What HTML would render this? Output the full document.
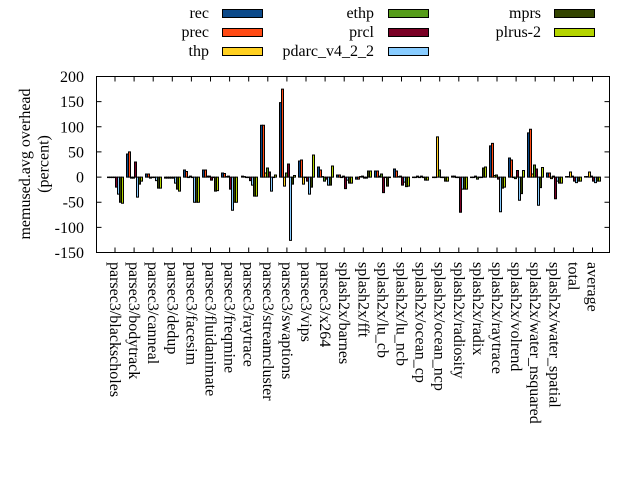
<!DOCTYPE html>
<html><head><meta charset="utf-8"><style>
html,body{margin:0;padding:0;background:#fff;}
svg{display:block;font-family:"Liberation Serif",serif;font-size:16px;}
.b rect{stroke:#000;stroke-width:1;vector-effect:non-scaling-stroke;}
.a{fill:#0c4a8a}.p{fill:#ff4a14}.t{fill:#ffd020}.e{fill:#569c1a}.c{fill:#7a0025}.d{fill:#88ccff}.m{fill:#334400}.l{fill:#b4d400}
.lg rect{stroke:#000;stroke-width:1;}
</style></head><body>
<svg width="640" height="480" viewBox="0 0 640 480">
<rect width="640" height="480" fill="#fff"/>
<!-- legend -->
<g text-anchor="end">
<text x="209" y="18">rec</text><text x="209" y="37">prec</text><text x="209" y="56">thp</text>
<text x="374" y="18">ethp</text><text x="374" y="37">prcl</text><text x="374" y="56">pdarc_v4_2_2</text>
<text x="541" y="18">mprs</text><text x="541" y="37">plrus-2</text>
</g>
<g class="lg">
<rect class="a" x="222.5" y="9.5" width="40" height="8"/>
<rect class="p" x="222.5" y="28.5" width="40" height="8"/>
<rect class="t" x="222.5" y="47.5" width="40" height="8"/>
<rect class="e" x="388.5" y="9.5" width="40" height="8"/>
<rect class="c" x="388.5" y="28.5" width="40" height="8"/>
<rect class="d" x="388.5" y="47.5" width="40" height="8"/>
<rect class="m" x="554.5" y="9.5" width="40" height="8"/>
<rect class="l" x="554.5" y="28.5" width="40" height="8"/>
</g>
<!-- bars -->
<g class="b" transform="translate(0,177.07) scale(1,-0.50286)">
<g transform="translate(107.5,0)"><rect class="a" x="0" y="-1" width="2" height="1"/><rect class="p" x="2" y="-1" width="2" height="1"/><rect class="t" x="4" y="-1" width="2" height="1"/><rect class="e" x="6" y="-1" width="2" height="1"/><rect class="c" x="8" y="-20" width="2" height="20"/><rect class="d" x="10" y="-34" width="2" height="34"/><rect class="m" x="12" y="-50" width="2" height="50"/><rect class="l" x="14" y="-52" width="2" height="52"/></g>
<g transform="translate(126.5,0)"><rect class="a" x="0" y="0" width="2" height="46"/><rect class="p" x="2" y="0" width="2" height="50"/><rect class="t" x="4" y="-2" width="2" height="2"/><rect class="e" x="6" y="-2" width="2" height="2"/><rect class="c" x="8" y="0" width="2" height="30"/><rect class="d" x="10" y="-40" width="2" height="40"/><rect class="m" x="12" y="-14" width="2" height="14"/><rect class="l" x="14" y="-8" width="2" height="8"/></g>
<g transform="translate(145.5,0)"><rect class="a" x="0" y="0" width="2" height="6"/><rect class="p" x="2" y="0" width="2" height="6"/><rect class="t" x="4" y="-2" width="2" height="2"/><rect class="e" x="6" y="-1" width="2" height="1"/><rect class="c" x="8" y="-1" width="2" height="1"/><rect class="d" x="10" y="-7" width="2" height="7"/><rect class="m" x="12" y="-22" width="2" height="22"/><rect class="l" x="14" y="-22" width="2" height="22"/></g>
<g transform="translate(164.5,0)"><rect class="a" x="0" y="-2" width="2" height="2"/><rect class="p" x="2" y="-2" width="2" height="2"/><rect class="t" x="4" y="-2" width="2" height="2"/><rect class="e" x="6" y="-2" width="2" height="2"/><rect class="c" x="8" y="-2" width="2" height="2"/><rect class="d" x="10" y="-12" width="2" height="12"/><rect class="m" x="12" y="-24" width="2" height="24"/><rect class="l" x="14" y="-28" width="2" height="28"/></g>
<g transform="translate(183.5,0)"><rect class="a" x="0" y="0" width="2" height="14"/><rect class="p" x="2" y="0" width="2" height="11"/><rect class="t" x="4" y="-1" width="2" height="1"/><rect class="e" x="6" y="0" width="2" height="2"/><rect class="c" x="8" y="-1" width="2" height="1"/><rect class="d" x="10" y="-50" width="2" height="50"/><rect class="m" x="12" y="-50" width="2" height="50"/><rect class="l" x="14" y="-50" width="2" height="50"/></g>
<g transform="translate(202.5,0)"><rect class="a" x="0" y="0" width="2" height="14"/><rect class="p" x="2" y="0" width="2" height="14"/><rect class="t" x="4" y="0" width="2" height="2"/><rect class="e" x="6" y="0" width="2" height="2"/><rect class="c" x="8" y="-6" width="2" height="6"/><rect class="d" x="10" y="-1" width="2" height="1"/><rect class="m" x="12" y="-28" width="2" height="28"/><rect class="l" x="14" y="-27" width="2" height="27"/></g>
<g transform="translate(221.5,0)"><rect class="a" x="0" y="0" width="2" height="8"/><rect class="p" x="2" y="0" width="2" height="7"/><rect class="t" x="4" y="0" width="2" height="1"/><rect class="e" x="6" y="0" width="2" height="2"/><rect class="c" x="8" y="-24" width="2" height="24"/><rect class="d" x="10" y="-66" width="2" height="66"/><rect class="m" x="12" y="-50" width="2" height="50"/><rect class="l" x="14" y="-50" width="2" height="50"/></g>
<g transform="translate(241.5,0)"><rect class="a" x="0" y="0" width="2" height="2"/><rect class="p" x="2" y="0" width="2" height="1"/><rect class="t" x="4" y="-1" width="2" height="1"/><rect class="e" x="6" y="-1" width="2" height="1"/><rect class="c" x="8" y="-7" width="2" height="7"/><rect class="d" x="10" y="-16" width="2" height="16"/><rect class="m" x="12" y="-38" width="2" height="38"/><rect class="l" x="14" y="-38" width="2" height="38"/></g>
<g transform="translate(260.5,0)"><rect class="a" x="0" y="0" width="2" height="103"/><rect class="p" x="2" y="0" width="2" height="103"/><rect class="t" x="4" y="0" width="2" height="8"/><rect class="e" x="6" y="0" width="2" height="18"/><rect class="c" x="8" y="0" width="2" height="10"/><rect class="d" x="10" y="-28" width="2" height="28"/><rect class="m" x="12" y="-1" width="2" height="1"/><rect class="l" x="14" y="0" width="2" height="4"/></g>
<g transform="translate(279.5,0)"><rect class="a" x="0" y="0" width="2" height="148"/><rect class="p" x="2" y="0" width="2" height="175"/><rect class="t" x="4" y="-18" width="2" height="18"/><rect class="e" x="6" y="0" width="2" height="8"/><rect class="c" x="8" y="0" width="2" height="26"/><rect class="d" x="10" y="-126" width="2" height="126"/><rect class="m" x="12" y="-14" width="2" height="14"/><rect class="l" x="14" y="0" width="2" height="3"/></g>
<g transform="translate(298.5,0)"><rect class="a" x="0" y="0" width="2" height="32"/><rect class="p" x="2" y="0" width="2" height="34"/><rect class="t" x="4" y="-14" width="2" height="14"/><rect class="e" x="6" y="-1" width="2" height="1"/><rect class="c" x="8" y="-8" width="2" height="8"/><rect class="d" x="10" y="-34" width="2" height="34"/><rect class="m" x="12" y="-20" width="2" height="20"/><rect class="l" x="14" y="0" width="2" height="44"/></g>
<g transform="translate(317.5,0)"><rect class="a" x="0" y="0" width="2" height="20"/><rect class="p" x="2" y="0" width="2" height="14"/><rect class="t" x="4" y="0" width="2" height="1"/><rect class="e" x="6" y="-8" width="2" height="8"/><rect class="c" x="8" y="-4" width="2" height="4"/><rect class="d" x="10" y="-16" width="2" height="16"/><rect class="m" x="12" y="-16" width="2" height="16"/><rect class="l" x="14" y="0" width="2" height="22"/></g>
<g transform="translate(336.5,0)"><rect class="a" x="0" y="0" width="2" height="4"/><rect class="p" x="2" y="0" width="2" height="4"/><rect class="t" x="4" y="-1" width="2" height="1"/><rect class="e" x="6" y="0" width="2" height="2"/><rect class="c" x="8" y="-23" width="2" height="23"/><rect class="d" x="10" y="-6" width="2" height="6"/><rect class="m" x="12" y="-12" width="2" height="12"/><rect class="l" x="14" y="-12" width="2" height="12"/></g>
<g transform="translate(355.5,0)"><rect class="a" x="0" y="-4" width="2" height="4"/><rect class="p" x="2" y="-4" width="2" height="4"/><rect class="t" x="4" y="0" width="2" height="1"/><rect class="e" x="6" y="0" width="2" height="2"/><rect class="c" x="8" y="-2" width="2" height="2"/><rect class="d" x="10" y="-2" width="2" height="2"/><rect class="m" x="12" y="0" width="2" height="12"/><rect class="l" x="14" y="0" width="2" height="12"/></g>
<g transform="translate(374.5,0)"><rect class="a" x="0" y="0" width="2" height="12"/><rect class="p" x="2" y="0" width="2" height="12"/><rect class="t" x="4" y="0" width="2" height="2"/><rect class="e" x="6" y="0" width="2" height="6"/><rect class="c" x="8" y="-31" width="2" height="31"/><rect class="d" x="10" y="-1" width="2" height="1"/><rect class="m" x="12" y="-18" width="2" height="18"/><rect class="l" x="14" y="-1" width="2" height="1"/></g>
<g transform="translate(393.5,0)"><rect class="a" x="0" y="0" width="2" height="16"/><rect class="p" x="2" y="0" width="2" height="12"/><rect class="t" x="4" y="0" width="2" height="1"/><rect class="e" x="6" y="0" width="2" height="2"/><rect class="c" x="8" y="-16" width="2" height="16"/><rect class="d" x="10" y="-10" width="2" height="10"/><rect class="m" x="12" y="-19" width="2" height="19"/><rect class="l" x="14" y="-18" width="2" height="18"/></g>
<g transform="translate(412.5,0)"><rect class="a" x="0" y="-1" width="2" height="1"/><rect class="p" x="2" y="-1" width="2" height="1"/><rect class="t" x="4" y="0" width="2" height="2"/><rect class="e" x="6" y="-1" width="2" height="1"/><rect class="c" x="8" y="0" width="2" height="2"/><rect class="d" x="10" y="-1" width="2" height="1"/><rect class="m" x="12" y="-6" width="2" height="6"/><rect class="l" x="14" y="-6" width="2" height="6"/></g>
<g transform="translate(432.5,0)"><rect class="a" x="0" y="-1" width="2" height="1"/><rect class="p" x="2" y="-1" width="2" height="1"/><rect class="t" x="4" y="0" width="2" height="80"/><rect class="e" x="6" y="0" width="2" height="14"/><rect class="c" x="8" y="-1" width="2" height="1"/><rect class="d" x="10" y="-1" width="2" height="1"/><rect class="m" x="12" y="-8" width="2" height="8"/><rect class="l" x="14" y="-8" width="2" height="8"/></g>
<g transform="translate(451.5,0)"><rect class="a" x="0" y="0" width="2" height="2"/><rect class="p" x="2" y="0" width="2" height="2"/><rect class="t" x="4" y="-1" width="2" height="1"/><rect class="e" x="6" y="-1" width="2" height="1"/><rect class="c" x="8" y="-70" width="2" height="70"/><rect class="d" x="10" y="-24" width="2" height="24"/><rect class="m" x="12" y="-24" width="2" height="24"/><rect class="l" x="14" y="-24" width="2" height="24"/></g>
<g transform="translate(470.5,0)"><rect class="a" x="0" y="-1" width="2" height="1"/><rect class="p" x="2" y="-1" width="2" height="1"/><rect class="t" x="4" y="0" width="2" height="2"/><rect class="e" x="6" y="-4" width="2" height="4"/><rect class="c" x="8" y="-1" width="2" height="1"/><rect class="d" x="10" y="-1" width="2" height="1"/><rect class="m" x="12" y="0" width="2" height="18"/><rect class="l" x="14" y="0" width="2" height="20"/></g>
<g transform="translate(489.5,0)"><rect class="a" x="0" y="0" width="2" height="62"/><rect class="p" x="2" y="0" width="2" height="67"/><rect class="t" x="4" y="0" width="2" height="3"/><rect class="e" x="6" y="0" width="2" height="4"/><rect class="c" x="8" y="-4" width="2" height="4"/><rect class="d" x="10" y="-69" width="2" height="69"/><rect class="m" x="12" y="-22" width="2" height="22"/><rect class="l" x="14" y="-20" width="2" height="20"/></g>
<g transform="translate(508.5,0)"><rect class="a" x="0" y="0" width="2" height="38"/><rect class="p" x="2" y="0" width="2" height="34"/><rect class="t" x="4" y="-1" width="2" height="1"/><rect class="e" x="6" y="-3" width="2" height="3"/><rect class="c" x="8" y="0" width="2" height="13"/><rect class="d" x="10" y="-46" width="2" height="46"/><rect class="m" x="12" y="-33" width="2" height="33"/><rect class="l" x="14" y="0" width="2" height="13"/></g>
<g transform="translate(527.5,0)"><rect class="a" x="0" y="0" width="2" height="88"/><rect class="p" x="2" y="0" width="2" height="95"/><rect class="t" x="4" y="0" width="2" height="6"/><rect class="e" x="6" y="0" width="2" height="24"/><rect class="c" x="8" y="0" width="2" height="16"/><rect class="d" x="10" y="-56" width="2" height="56"/><rect class="m" x="12" y="-21" width="2" height="21"/><rect class="l" x="14" y="0" width="2" height="19"/></g>
<g transform="translate(546.5,0)"><rect class="a" x="0" y="0" width="2" height="8"/><rect class="p" x="2" y="0" width="2" height="8"/><rect class="t" x="4" y="-3" width="2" height="3"/><rect class="e" x="6" y="0" width="2" height="2"/><rect class="c" x="8" y="-43" width="2" height="43"/><rect class="d" x="10" y="-8" width="2" height="8"/><rect class="m" x="12" y="-12" width="2" height="12"/><rect class="l" x="14" y="-12" width="2" height="12"/></g>
<g transform="translate(565.5,0)"><rect class="a" x="0" y="0" width="2" height="1"/><rect class="p" x="2" y="0" width="2" height="1"/><rect class="t" x="4" y="0" width="2" height="10"/><rect class="e" x="6" y="0" width="2" height="2"/><rect class="c" x="8" y="-8" width="2" height="8"/><rect class="d" x="10" y="-11" width="2" height="11"/><rect class="m" x="12" y="-8" width="2" height="8"/><rect class="l" x="14" y="-8" width="2" height="8"/></g>
<g transform="translate(584.5,0)"><rect class="a" x="0" y="0" width="2" height="1"/><rect class="p" x="2" y="0" width="2" height="1"/><rect class="t" x="4" y="0" width="2" height="10"/><rect class="e" x="6" y="0" width="2" height="2"/><rect class="c" x="8" y="-8" width="2" height="8"/><rect class="d" x="10" y="-11" width="2" height="11"/><rect class="m" x="12" y="-8" width="2" height="8"/><rect class="l" x="14" y="-8" width="2" height="8"/></g>
</g>
<!-- frame and ticks -->
<rect x="96.5" y="76.5" width="513" height="176" fill="none" stroke="#000" stroke-width="1"/>
<path stroke="#000" stroke-width="1" fill="none" d="
M96.5 76.5h5M96.5 101.6h5M96.5 126.8h5M96.5 151.9h5M96.5 177.1h5M96.5 202.2h5M96.5 227.4h5M96.5 252.5h5
M609.5 76.5h-5M609.5 101.6h-5M609.5 126.8h-5M609.5 151.9h-5M609.5 177.1h-5M609.5 202.2h-5M609.5 227.4h-5M609.5 252.5h-5
M115 252.5v-5M134.1 252.5v-5M153.2 252.5v-5M172.3 252.5v-5M191.4 252.5v-5M210.5 252.5v-5M229.6 252.5v-5M248.7 252.5v-5M267.8 252.5v-5M286.9 252.5v-5M306 252.5v-5M325.1 252.5v-5M344.2 252.5v-5M363.3 252.5v-5M382.4 252.5v-5M401.5 252.5v-5M420.6 252.5v-5M439.7 252.5v-5M458.8 252.5v-5M477.9 252.5v-5M497 252.5v-5M516.1 252.5v-5M535.2 252.5v-5M554.3 252.5v-5M573.4 252.5v-5M592.5 252.5v-5
M115 76.5v5M134.1 76.5v5M153.2 76.5v5M172.3 76.5v5M191.4 76.5v5M210.5 76.5v5M229.6 76.5v5M248.7 76.5v5M267.8 76.5v5M286.9 76.5v5M306 76.5v5M325.1 76.5v5M344.2 76.5v5M363.3 76.5v5M382.4 76.5v5M401.5 76.5v5M420.6 76.5v5M439.7 76.5v5M458.8 76.5v5M477.9 76.5v5M497 76.5v5M516.1 76.5v5M535.2 76.5v5M554.3 76.5v5M573.4 76.5v5M592.5 76.5v5"/>
<!-- y tick labels -->
<g text-anchor="end">
<text x="84" y="82">200</text><text x="84" y="107.1">150</text><text x="84" y="132.3">100</text><text x="84" y="157.4">50</text><text x="84" y="182.6">0</text><text x="84" y="207.7">-50</text><text x="84" y="232.9">-100</text><text x="84" y="258">-150</text>
</g>
<!-- y axis label -->
<text text-anchor="middle" transform="translate(30,164) rotate(-90)">memused.avg overhead</text>
<text text-anchor="middle" transform="translate(48.5,164) rotate(-90)">(percent)</text>
<!-- x tick labels -->
<g>
<text transform="translate(110,262) rotate(90)">parsec3/blackscholes</text>
<text transform="translate(129.1,262) rotate(90)">parsec3/bodytrack</text>
<text transform="translate(148.2,262) rotate(90)">parsec3/canneal</text>
<text transform="translate(167.3,262) rotate(90)">parsec3/dedup</text>
<text transform="translate(186.4,262) rotate(90)">parsec3/facesim</text>
<text transform="translate(205.5,262) rotate(90)">parsec3/fluidanimate</text>
<text transform="translate(224.6,262) rotate(90)">parsec3/freqmine</text>
<text transform="translate(243.7,262) rotate(90)">parsec3/raytrace</text>
<text transform="translate(262.8,262) rotate(90)">parsec3/streamcluster</text>
<text transform="translate(281.9,262) rotate(90)">parsec3/swaptions</text>
<text transform="translate(301,262) rotate(90)">parsec3/vips</text>
<text transform="translate(320.1,262) rotate(90)">parsec3/x264</text>
<text transform="translate(339.2,262) rotate(90)">splash2x/barnes</text>
<text transform="translate(358.3,262) rotate(90)">splash2x/fft</text>
<text transform="translate(377.4,262) rotate(90)">splash2x/lu_cb</text>
<text transform="translate(396.5,262) rotate(90)">splash2x/lu_ncb</text>
<text transform="translate(415.6,262) rotate(90)">splash2x/ocean_cp</text>
<text transform="translate(434.7,262) rotate(90)">splash2x/ocean_ncp</text>
<text transform="translate(453.8,262) rotate(90)">splash2x/radiosity</text>
<text transform="translate(472.9,262) rotate(90)">splash2x/radix</text>
<text transform="translate(492,262) rotate(90)">splash2x/raytrace</text>
<text transform="translate(511.1,262) rotate(90)">splash2x/volrend</text>
<text transform="translate(530.2,262) rotate(90)">splash2x/water_nsquared</text>
<text transform="translate(549.3,262) rotate(90)">splash2x/water_spatial</text>
<text transform="translate(568.4,262) rotate(90)">total</text>
<text transform="translate(587.5,262) rotate(90)">average</text>
</g>
</svg>
</body></html>
